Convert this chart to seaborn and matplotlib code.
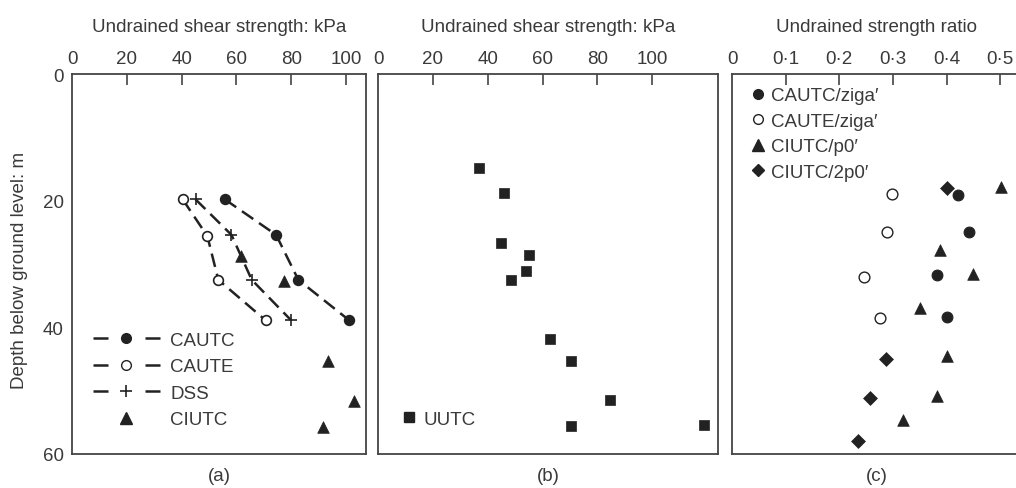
import numpy as np
import pandas as pd
import matplotlib
matplotlib.use("Agg")
import matplotlib.pyplot as plt
from matplotlib.lines import Line2D
import seaborn as sns

# ---------------- data ----------------
# panel (a): undrained shear strength (kPa) vs depth (m)
cautc_su = [55.8, 74.5, 82.6, 101.2]
cautc_z = [19.8, 25.4, 32.5, 38.9]
caute_su = [40.4, 49.4, 53.4, 70.7]
caute_z = [19.8, 25.6, 32.5, 38.9]
dss_su = [45.1, 58.2, 65.6, 80.0]
dss_z = [19.8, 25.4, 32.5, 38.9]
ciutc_su = [61.7, 77.4, 93.5, 102.9, 91.5]
ciutc_z = [28.8, 32.7, 45.3, 51.6, 55.7]

# panel (b): UUTC
uutc_su = [36.9, 46.0, 44.9, 55.1, 54.0, 48.5, 62.8, 70.4, 84.7, 70.4, 119.0]
uutc_z = [14.9, 18.8, 26.7, 28.6, 31.1, 32.6, 41.8, 45.3, 51.5, 55.6, 55.4]

# panel (c): undrained strength ratio
r_cautc = [0.422, 0.441, 0.382, 0.401]
r_cautc_z = [19.1, 24.9, 31.8, 38.3]
r_caute = [0.298, 0.289, 0.246, 0.276]
r_caute_z = [19.0, 24.9, 32.1, 38.5]
r_ciutc_p0 = [0.502, 0.388, 0.450, 0.351, 0.401, 0.382, 0.319]
r_ciutc_p0_z = [17.8, 27.8, 31.5, 37.0, 44.5, 50.8, 54.7]
r_ciutc_2p0 = [0.401, 0.287, 0.257, 0.235]
r_ciutc_2p0_z = [18.0, 45.0, 51.1, 57.9]

su_ticks = [0, 20, 40, 60, 80, 100]
ratio_ticks = [0, 0.1, 0.2, 0.3, 0.4, 0.5]
ratio_ticklabels = ["0", "0·1", "0·2", "0·3", "0·4", "0·5"]
depth_ticks = [0, 10, 20, 30, 40, 50, 60]
depth_ticklabels = ["0", "", "20", "", "40", "", "60"]

# ---------------- style ----------------
sns.set_theme(style="white")
plt.rcParams["font.family"] = ["Liberation Sans", "DejaVu Sans"]
TXT = "#3a3a3a"
INK = "#222222"
SP = "#444444"
FS = 13.5
plt.rcParams.update({
    "text.color": TXT, "axes.labelcolor": TXT,
    "xtick.color": SP, "ytick.color": SP,
    "xtick.labelcolor": TXT, "ytick.labelcolor": TXT,
})

W, H = 1016, 489
fig = plt.figure(figsize=(W / 100, H / 100), dpi=100)


def px_axes(l, r, t, b):
    return fig.add_axes([l / W, 1 - b / H, (r - l) / W, (b - t) / H])


axa = px_axes(72, 366, 75, 455)
axb = px_axes(378, 718, 75, 455)
axc = px_axes(732, 1022, 75, 455)

DASH = (0, (5.5, 2.8))
MS = 7

# panel (a)
series_a = [
    ("CAUTC", cautc_su, cautc_z, "o", INK),
    ("CAUTE", caute_su, caute_z, "o", "white"),
    ("DSS", dss_su, dss_z, "+", INK),
]
for name, xs, zs, mk, fc in series_a:
    df = pd.DataFrame({"su": xs, "z": zs})
    sns.lineplot(data=df, x="su", y="z", sort=False, ax=axa, color=INK,
                 linewidth=1.8, linestyle=DASH, marker=mk, markersize=MS if mk != "+" else 9,
                 markerfacecolor=fc, markeredgecolor=INK, markeredgewidth=1.2)
df_ci = pd.DataFrame({"su": ciutc_su, "z": ciutc_z})
sns.scatterplot(data=df_ci, x="su", y="z", ax=axa, marker="^", s=70, color=INK,
                edgecolor=INK, linewidth=0.5, zorder=5)

LEG_DASH = (0, (6, 14.8))
h_a = [
    Line2D([], [], color=INK, lw=1.8, ls=LEG_DASH, marker="o", ms=MS, mfc=INK, mec=INK),
    Line2D([], [], color=INK, lw=1.8, ls=LEG_DASH, marker="o", ms=MS, mfc="white", mec=INK),
    Line2D([], [], color=INK, lw=1.8, ls=LEG_DASH, marker="+", ms=9, mec=INK, mew=1.2),
    Line2D([], [], ls="none", marker="^", ms=8, mfc=INK, mec=INK),
]
axa.legend(h_a, ["CAUTC", "CAUTE", "DSS", "CIUTC"], loc="upper left",
           bbox_to_anchor=(0.071, 0.322), frameon=False, fontsize=FS,
           handlelength=3.57, handletextpad=0.55, labelspacing=0.5,
           borderaxespad=0.0, borderpad=0.0)
axa.set_xlim(0, 107.3)
axa.set_xticks(su_ticks)
axa.set_xticklabels([str(t) for t in su_ticks])

# panel (b)
df_b = pd.DataFrame({"su": uutc_su, "z": uutc_z})
sns.scatterplot(data=df_b, x="su", y="z", ax=axb, marker="s", s=55, color=INK,
                edgecolor=INK, linewidth=0.5)
axb.legend([Line2D([], [], ls="none", marker="s", ms=7.4, mfc=INK, mec=INK)], ["UUTC"],
           loc="center left", bbox_to_anchor=(0.064, 0.092), frameon=False, fontsize=FS,
           handlelength=1.0, handletextpad=0.25, borderaxespad=0.0, borderpad=0.0)
axb.set_xlim(0, 124)
axb.set_xticks(su_ticks)
axb.set_xticklabels([str(t) for t in su_ticks])

# panel (c)
sns.scatterplot(x=r_cautc, y=r_cautc_z, ax=axc, marker="o", s=60, color=INK, edgecolor=INK, linewidth=0.8)
sns.scatterplot(x=r_caute, y=r_caute_z, ax=axc, marker="o", s=60, color="white", edgecolor=INK, linewidth=1.0)
sns.scatterplot(x=r_ciutc_p0, y=r_ciutc_p0_z, ax=axc, marker="^", s=70, color=INK, edgecolor=INK, linewidth=0.5)
sns.scatterplot(x=r_ciutc_2p0, y=r_ciutc_2p0_z, ax=axc, marker="D", s=50, color=INK, edgecolor=INK, linewidth=0.5)
h_c = [
    Line2D([], [], ls="none", marker="o", ms=7, mfc=INK, mec=INK),
    Line2D([], [], ls="none", marker="o", ms=7, mfc="white", mec=INK),
    Line2D([], [], ls="none", marker="^", ms=8, mfc=INK, mec=INK),
    Line2D([], [], ls="none", marker="D", ms=6.5, mfc=INK, mec=INK),
]
axc.legend(h_c, ["CAUTC/ziga′", "CAUTE/ziga′", "CIUTC/p0′", "CIUTC/2p0′"],
           loc="upper left", frameon=False, fontsize=FS, handlelength=0.8,
           handletextpad=0.3, labelspacing=0.44, borderaxespad=0.0, borderpad=0.0,
           bbox_to_anchor=(0.064, 0.965))
axc.set_xlim(0, 0.5407)
axc.set_xticks(ratio_ticks)
axc.set_xticklabels(ratio_ticklabels)

# common formatting
titles = ["Undrained shear strength: kPa", "Undrained shear strength: kPa", "Undrained strength ratio"]
for ax, title, tag in zip([axa, axb, axc], titles, ["(a)", "(b)", "(c)"]):
    ax.set_ylim(60, 0)
    ax.set_yticks(depth_ticks)
    ax.xaxis.tick_top()
    ax.xaxis.set_label_position("top")
    ax.set_xlabel(title, fontsize=FS, labelpad=14)
    ax.set_ylabel("")
    ax.tick_params(axis="both", direction="in", length=8, width=1.2, labelsize=FS)
    ax.tick_params(axis="x", pad=5)
    for s in ax.spines.values():
        s.set_color(SP)
        s.set_linewidth(1.3)
    ax.text(0.5, -0.035, tag, transform=ax.transAxes, ha="center", va="top", fontsize=FS, color=TXT)
    ax.set_facecolor("white")
    # hide tick marks at the spine ends
    for t, v in zip(ax.xaxis.get_major_ticks(), ax.get_xticks()):
        if v == 0:
            t.tick2line.set_visible(False)
    for t, v in zip(ax.yaxis.get_major_ticks(), depth_ticks):
        if v in (0, 60):
            t.tick1line.set_visible(False)

axa.set_yticklabels(depth_ticklabels)
axa.tick_params(axis="y", pad=6)
axa.set_ylabel("Depth below ground level: m", fontsize=FS)
axa.yaxis.set_label_coords(-0.15, 0.487)
axb.set_yticklabels([])
axc.set_yticklabels([])

fig.savefig("out.png", dpi=100, facecolor="white")
